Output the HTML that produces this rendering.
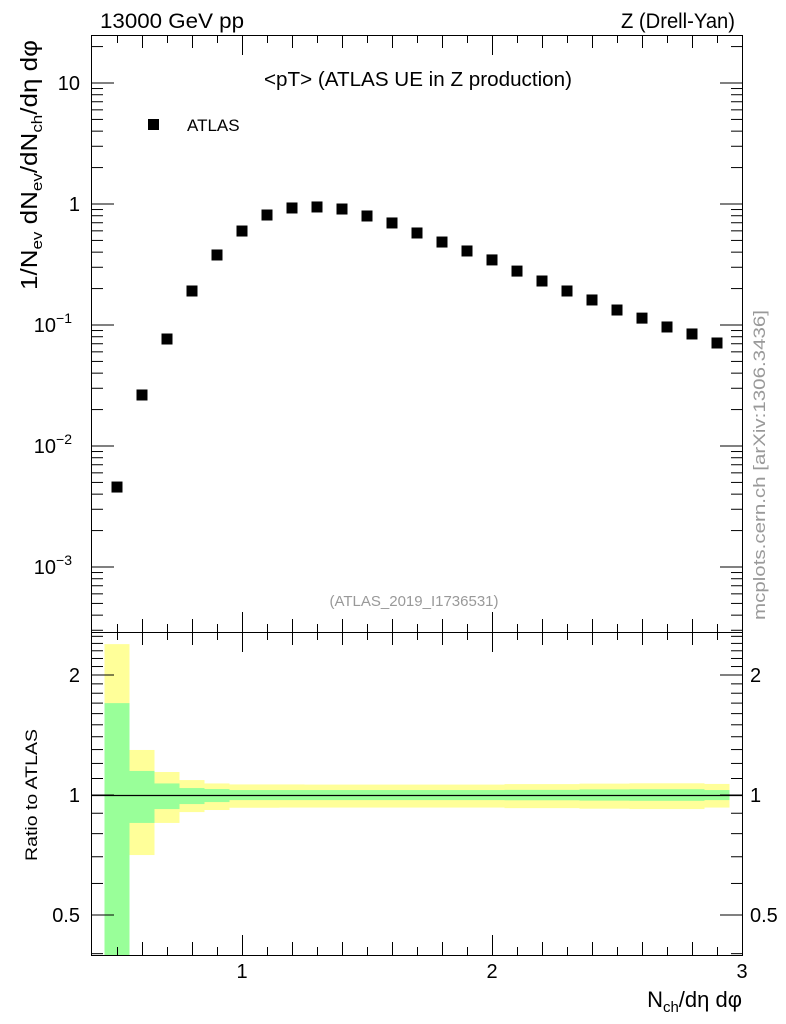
<!DOCTYPE html>
<html><head><meta charset="utf-8"><style>
body{margin:0;background:#fff}
svg{display:block;font-family:"Liberation Sans",sans-serif}
</style></head><body>
<svg id="c" width="786" height="1024" viewBox="0 0 786 1024" xmlns="http://www.w3.org/2000/svg">
<g id="bands"></g>
<g id="marks"></g>
<g id="axes"></g>
<text x="100" y="28" font-size="21" textLength="144" lengthAdjust="spacingAndGlyphs">13000 GeV pp</text>
<text x="621" y="28" font-size="21" textLength="114" lengthAdjust="spacingAndGlyphs">Z (Drell-Yan)</text>
<text x="264" y="86" font-size="20" textLength="308" lengthAdjust="spacingAndGlyphs">&lt;pT&gt; (ATLAS UE in Z production)</text>
<rect x="148" y="119" width="11" height="11" fill="#000"/>
<text x="187" y="131" font-size="17">ATLAS</text>
<text x="414" y="606" font-size="15" fill="#999" text-anchor="middle">(ATLAS_2019_I1736531)</text>
<text transform="translate(765,620) rotate(-90)" font-size="17" fill="#999" textLength="310" lengthAdjust="spacingAndGlyphs">mcplots.cern.ch [arXiv:1306.3436]</text>
<text transform="translate(37,290) rotate(-90)" font-size="23" textLength="250" lengthAdjust="spacingAndGlyphs">1/N<tspan font-size="15" dy="5">ev</tspan><tspan dy="-5"> dN</tspan><tspan font-size="15" dy="5">ev</tspan><tspan dy="-5">/dN</tspan><tspan font-size="15" dy="5">ch</tspan><tspan dy="-5">/dη dφ</tspan></text>
<text transform="translate(37,861) rotate(-90)" font-size="17" textLength="132" lengthAdjust="spacingAndGlyphs">Ratio to ATLAS</text>
<text x="742" y="1007" font-size="22" text-anchor="end">N<tspan font-size="15" dy="5">ch</tspan><tspan dy="-5">/dη dφ</tspan></text>
</svg>
<script>
const xVals=[0.5,0.6,0.7,0.8,0.9,1.0,1.1,1.2,1.3,1.4,1.5,1.6,1.7,1.8,1.9,2.0,2.1,2.2,2.3,2.4,2.5,2.6,2.7,2.8,2.9];
const yVals=[0.00458,0.0264,0.0766,0.191,0.379,0.598,0.811,0.927,0.945,0.909,0.796,0.697,0.576,0.485,0.409,0.345,0.279,0.231,0.191,0.161,0.133,0.114,0.0963,0.0843,0.0710];
const yelUp=[2.39,1.297,1.142,1.090,1.069,1.063,1.063,1.063,1.062,1.062,1.062,1.062,1.062,1.062,1.062,1.062,1.065,1.065,1.065,1.068,1.068,1.070,1.070,1.070,1.066];
const yelDn=[0.3,0.707,0.851,0.906,0.917,0.929,0.929,0.930,0.930,0.930,0.930,0.930,0.930,0.930,0.930,0.930,0.927,0.927,0.927,0.924,0.924,0.922,0.922,0.922,0.930];
const grnUp=[1.70,1.149,1.069,1.041,1.035,1.029,1.029,1.029,1.029,1.029,1.029,1.029,1.029,1.029,1.029,1.029,1.030,1.030,1.030,1.033,1.033,1.034,1.034,1.034,1.029];
const grnDn=[0.3,0.851,0.922,0.949,0.960,0.971,0.971,0.971,0.971,0.971,0.971,0.971,0.971,0.971,0.971,0.971,0.970,0.970,0.970,0.968,0.968,0.967,0.967,0.967,0.971];
const binW=0.1;
const xTickLabels=["1","2","3"];
const NS="http://www.w3.org/2000/svg";
const X0=92,X1=742,xmin=0.4,xmax=3.0;
const X=v=>X0+(v-xmin)/(xmax-xmin)*(X1-X0);
const Y=v=>204-121*Math.log10(v);
const R=v=>Math.min(955,Math.max(632,795-398.7*Math.log10(v)));
function mk(t,a,p){const e=document.createElementNS(NS,t);for(const k in a)e.setAttribute(k,a[k]);p.appendChild(e);return e;}
const bands=document.getElementById('bands'),marks=document.getElementById('marks'),axes=document.getElementById('axes');
xVals.forEach((x,i)=>{
 const xa=X(x-binW/2),xb=X(x+binW/2);
 let r=mk('rect',{x:xa,y:R(yelUp[i]),width:xb-xa,height:R(yelDn[i])-R(yelUp[i]),fill:'#ffff99'},bands);
 
 
 r=mk('rect',{x:xa,y:R(grnUp[i]),width:xb-xa,height:R(grnDn[i])-R(grnUp[i]),fill:'#99ff99'},bands);
 
 
 const m=mk('rect',{x:X(x)-5.5,y:Y(yVals[i])-5.5,width:11,height:11,fill:'#000'},marks);
 
 
});
const st={stroke:'#000','stroke-width':1,fill:'none'};
let f=mk('rect',Object.assign({x:91.5,y:35.5,width:651,height:597},st),axes);


f=mk('rect',Object.assign({x:91.5,y:632.5,width:651,height:323},st),axes);


mk('line',{x1:92,x2:742,y1:795.5,y2:795.5,stroke:'#000','stroke-width':1.3},axes);
function ln(x1,y1,x2,y2){mk('line',{x1,y1,x2,y2,stroke:'#000','stroke-width':1},axes);}
for(let k=5;k<=30;k++){const v=k/10,px=X(v)+0.5;const L=k%10==0?20:(k%2==0?13:8);
 [[35,1],[632,-1],[632,1],[955,-1]].forEach(([y,d])=>ln(px,y,px,y+d*L));}
xTickLabels.forEach(t=>{const e=mk('text',{x:X(+t),y:978,'font-size':20,'text-anchor':'middle'},axes);e.textContent=t;
 
 });
for(let d=-4;d<=1;d++){for(let m=1;m<10;m++){const v=m*Math.pow(10,d),py=Y(v);if(py<35||py>632)continue;
 const L=m==1?22:11;ln(92,py,92+L,py);ln(742,py,742-L,py);}}
[[10,"10",""],[1,"1",""],[0.1,"10","−1"],[0.01,"10","−2"],[0.001,"10","−3"]].forEach(([v,b,e])=>{
 const t=mk('text',{x:e?72:80,y:Y(v)+7,'font-size':20,'text-anchor':'end'},axes);t.textContent=b;
 
 
 if(e){const s=mk('tspan',{'font-size':14,dy:-9},t);s.textContent=e;}});
for(let k=4;k<=25;k++){const v=k/10,py=R(v);if(py<=632||py>=955)continue;const L=(k==5||k==10||k==20)?22:11;
 ln(92,py,92+L,py);ln(742,py,742-L,py);}
[[2,"2"],[1,"1"],[0.5,"0.5"]].forEach(([v,s])=>{
 let t=mk('text',{x:80,y:R(v)+7,'font-size':20,'text-anchor':'end'},axes);t.textContent=s;
 
 
 t=mk('text',{x:750,y:R(v)+7,'font-size':20},axes);t.textContent=s;
 
 });
</script>
</body></html>
